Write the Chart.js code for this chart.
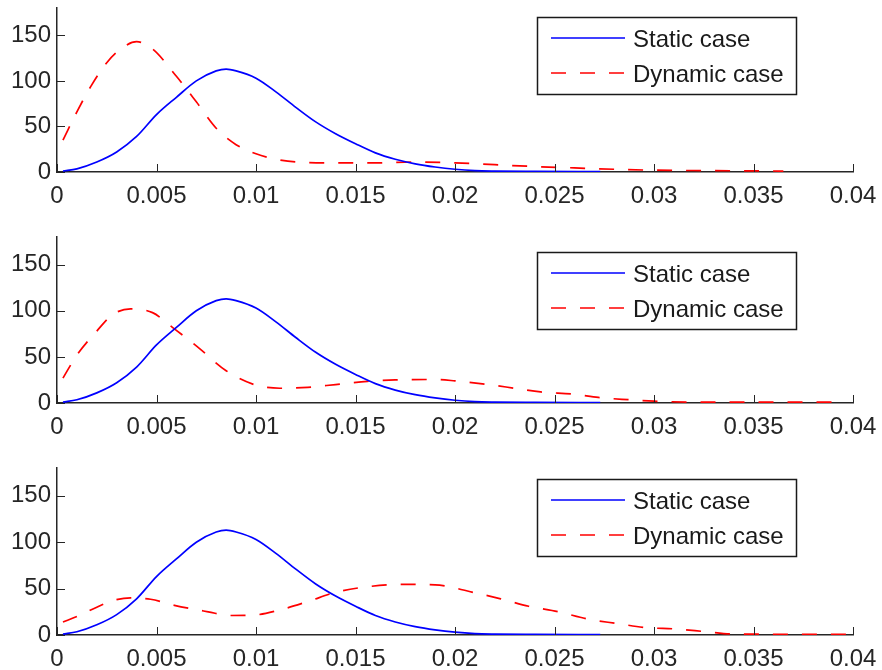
<!DOCTYPE html>
<html>
<head>
<meta charset="utf-8">
<script src="https://cdn.jsdelivr.net/npm/chart.js@4"></script>
<style>
    html, body { margin: 0; padding: 0; background: #ffffff; }
    #wrap { position: relative; width: 882px; height: 670px; }
    #wrap canvas { position: absolute; left: 0; }
</style>
</head>
<body>
<div id="wrap">
    <canvas id="c1" width="882" height="215" style="top:0px"></canvas>
    <canvas id="c2" width="882" height="215" style="top:225px"></canvas>
    <canvas id="c3" width="882" height="215" style="top:455px"></canvas>
</div>
<script>
// ============================================
// DATOS
// ============================================

const seriesNames = ['Static case', 'Dynamic case'];

// caso estatico (igual en los tres paneles)
const staticX = [0.0003, 0.001, 0.002, 0.003, 0.004, 0.005, 0.006, 0.007, 0.008, 0.0085,
    0.009, 0.010, 0.011, 0.012, 0.013, 0.014, 0.015, 0.016, 0.017, 0.018,
    0.019, 0.020, 0.021, 0.022, 0.024, 0.0273];
const staticY = [1, 3.5, 11, 22, 39, 63, 82, 100, 111, 113,
    111, 103, 88, 71, 55, 42, 31, 21, 14, 9,
    5.5, 3, 1.5, 1, 0.7, 0.5];

// caso dinamico, panel 1
const dyn1X = [0.0003, 0.001, 0.0017, 0.0025, 0.0032, 0.004, 0.0048, 0.006, 0.007, 0.008,
    0.009, 0.010, 0.011, 0.012, 0.014, 0.016, 0.018, 0.020, 0.022, 0.024,
    0.026, 0.028, 0.030, 0.033, 0.0365];
const dyn1Y = [35, 66, 94, 120, 135, 143, 135, 105, 77, 48,
    30, 20, 14, 11, 10, 10, 11, 10, 8, 6,
    4.5, 3, 2, 1.5, 1];

// caso dinamico, panel 2
const dyn2X = [0.0003, 0.001, 0.002, 0.0028, 0.0037, 0.0048, 0.0058, 0.007, 0.0085, 0.0099,
    0.0112, 0.0126, 0.014, 0.0156, 0.017, 0.019, 0.020, 0.0215, 0.023, 0.0243,
    0.026, 0.0272, 0.0287, 0.030, 0.032, 0.0395];
const dyn2Y = [27, 52, 78, 96, 102, 98, 82, 62, 35, 20,
    16, 17, 20, 23.5, 25, 25.5, 24, 20.5, 16, 12,
    9.5, 6, 3.6, 2, 1, 1];

// caso dinamico, panel 3
const dyn3X = [0.0003, 0.001, 0.002, 0.0028, 0.0037, 0.0047, 0.0059, 0.0076, 0.0087, 0.0099,
    0.0112, 0.0126, 0.014, 0.0156, 0.0173, 0.019, 0.0211, 0.0223, 0.0237, 0.0252,
    0.0267, 0.0281, 0.0296, 0.0311, 0.0326, 0.034, 0.040];
const dyn3Y = [14, 20, 30, 37, 40, 38.5, 32, 25, 21, 21.5,
    27, 36, 46, 52, 54.5, 54, 45, 39, 31, 25,
    17, 12.5, 8, 6.5, 3.6, 1, 0.7];

// ejes
const xMin = 0;
const xMax = 0.04;
const xStep = 0.005;
const yMin = 0;
const yMax = 180;
const yStep = 50;



// ============================================
// ESTILO
// ============================================

const FONT = '"Liberation Sans", Arial, sans-serif';
const AXIS_COLOR = '#262626';

const toPoints = (xs, ys) => xs.map((x, i) => ({ x, y: ys[i] }));



// ============================================
// PLUGIN: ticks hacia dentro y leyenda con caja
// ============================================

const matlabAxes = {

    id: 'matlabAxes',

    afterDraw(chart, args, opts) {

        const ctx = chart.ctx;
        const area = chart.chartArea;
        const xs = chart.scales.x;
        const ys = chart.scales.y;
        const len = 8;

        ctx.save();
        ctx.strokeStyle = AXIS_COLOR;
        ctx.lineWidth = 1;
        ctx.beginPath();

        xs.ticks.forEach(t => {
            const px = Math.round(xs.getPixelForValue(t.value)) + 0.5;
            ctx.moveTo(px, area.bottom);
            ctx.lineTo(px, area.bottom - len);
        });

        ys.ticks.forEach(t => {
            const py = Math.round(ys.getPixelForValue(t.value)) + 0.5;
            ctx.moveTo(area.left, py);
            ctx.lineTo(area.left + len, py);
        });

        ctx.stroke();

        // leyenda
        const left = 537;
        const right = 796;
        const top = area.top + opts.legendTop;
        const height = 77;

        ctx.fillStyle = '#ffffff';
        ctx.fillRect(left, top, right - left, height);
        ctx.strokeStyle = '#1a1a1a';
        ctx.lineWidth = 1.5;
        ctx.strokeRect(left + 0.5, top + 0.5, right - left, height);

        ctx.font = '24px ' + FONT;
        ctx.textBaseline = 'middle';
        ctx.textAlign = 'left';

        chart.data.datasets.forEach((ds, i) => {
            const rowY = top + 21 + i * 35;
            ctx.beginPath();
            ctx.strokeStyle = ds.borderColor;
            ctx.lineWidth = ds.borderWidth;
            ctx.setLineDash(ds.borderDash || []);
            ctx.moveTo(551, rowY);
            ctx.lineTo(625, rowY);
            ctx.stroke();
            ctx.setLineDash([]);
            ctx.fillStyle = '#1a1a1a';
            ctx.fillText(ds.label, 633, rowY + 2);
        });

        ctx.restore();
    }
};



// ============================================
// GRAFICA DE UN PANEL
// ============================================

function createPanel(

    canvasId,

    dynX,

    dynY,

    layout

) {

    const ctx =
        document
        .getElementById(canvasId)
        .getContext('2d');

    return new Chart(ctx, {

        type: 'line',

        data: {

            datasets: [

                {
                    label: seriesNames[0],
                    data: toPoints(staticX, staticY),
                    borderColor: '#0000ff',
                    borderWidth: 1.7,
                    pointRadius: 0,
                    cubicInterpolationMode: 'monotone',
                    fill: false
                },

                {
                    label: seriesNames[1],
                    data: toPoints(dynX, dynY),
                    borderColor: '#ff0000',
                    borderWidth: 1.7,
                    borderDash: [15, 14],
                    pointRadius: 0,
                    cubicInterpolationMode: 'monotone',
                    fill: false
                }
            ]
        },

        options: {

            responsive: false,
            animation: false,
            events: [],

            layout: {
                padding: { top: layout.top, right: 29, bottom: 0, left: 0 }
            },

            plugins: {
                legend: { display: false },
                tooltip: { enabled: false },
                matlabAxes: { legendTop: layout.legendTop }
            },

            scales: {

                x: {
                    type: 'linear',
                    min: xMin,
                    max: xMax,
                    grid: { display: false, drawTicks: false },
                    border: { display: true, color: AXIS_COLOR, width: 1.5 },
                    ticks: {
                        stepSize: xStep,
                        autoSkip: false,
                        maxRotation: 0,
                        padding: 10,
                        color: AXIS_COLOR,
                        font: { family: FONT, size: 24 },
                        callback: v => parseFloat(v.toFixed(3)).toString()
                    },
                    afterFit: s => {
                        s.height = layout.xHeight;
                        s.paddingLeft = 0;
                        s.paddingRight = 0;
                    }
                },

                y: {
                    min: yMin,
                    max: yMax,
                    grid: { display: false, drawTicks: false },
                    border: { display: true, color: AXIS_COLOR, width: 1.5 },
                    ticks: {
                        stepSize: yStep,
                        includeBounds: false,
                        padding: 6,
                        color: AXIS_COLOR,
                        font: { family: FONT, size: 24 }
                    },
                    afterFit: s => {
                        s.width = 57;
                        s.paddingTop = 0;
                        s.paddingBottom = 0;
                    }
                }
            }
        },

        plugins: [matlabAxes]
    });
}



// ============================================
// PANELES
// ============================================

createPanel('c1', dyn1X, dyn1Y, { top: 8, xHeight: 43, legendTop: 9 });
createPanel('c2', dyn2X, dyn2Y, { top: 12, xHeight: 37, legendTop: 15 });
createPanel('c3', dyn3X, dyn3Y, { top: 13, xHeight: 35, legendTop: 11 });
</script>
</body>
</html>
